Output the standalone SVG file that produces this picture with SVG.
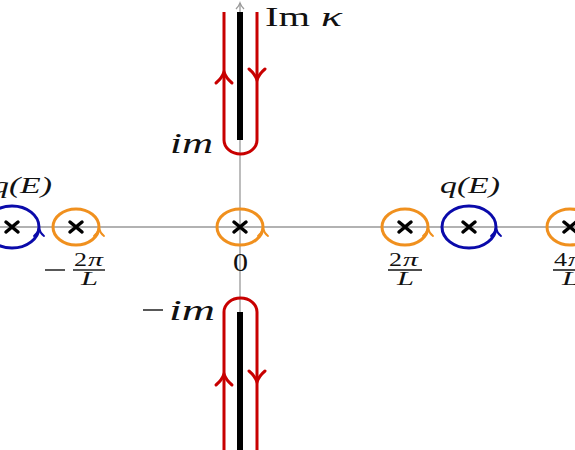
<svg xmlns="http://www.w3.org/2000/svg" width="575" height="450" viewBox="0 0 575 450">
<defs>
<style>
.axis{stroke:#999;stroke-width:1.3;fill:none}
.cut{stroke:#000;stroke-width:6;fill:none}
.red{stroke:#c80000;stroke-width:3;fill:none}
.orange{stroke:#f0901e;stroke-width:3;fill:none}
.blue{stroke:#0a0aaa;stroke-width:3;fill:none}
.x{stroke:#000;stroke-width:3.5;stroke-linecap:round;fill:none}
.m{font-family:"Liberation Serif",serif;font-style:italic;fill:#111}
.r{font-family:"Liberation Serif",serif;fill:#111}
.bar{stroke:#111;stroke-width:1.4}
</style>
<path id="chev" d="M-5,5 Q-1,2 0,-3 Q1,2 5,5" stroke-width="2" stroke-linecap="round" fill="none"/>
<path id="chevR" d="M-8,7 Q-2,2 0,-4 Q2,2 8,7" stroke-width="3" stroke-linecap="round" fill="none"/>
<path id="cross" d="M-6,-5 L6,5 M-6,5 L6,-5"/>
</defs>

<g id="axes">
<line class="axis" x1="0" y1="227" x2="575" y2="227"/>
<line class="axis" x1="240" y1="450" x2="240" y2="3"/>
<path class="axis" d="M236,9 Q239,6 240,3 Q241,6 244,9"/>
</g>

<g id="connectors">
<line class="cut" x1="240" y1="12" x2="240" y2="140"/>
<line class="cut" x1="240" y1="312" x2="240" y2="450"/>
<path class="red" d="M224,12 V140 A16.5,14 0 0 0 257,140 V12"/>
<path class="red" d="M224,450 V312 A16.5,14 0 0 1 257,312 V450"/>
<use href="#chevR" stroke="#c80000" transform="translate(224,76)"/>
<use href="#chevR" stroke="#c80000" transform="translate(257,76) rotate(180)"/>
<use href="#chevR" stroke="#c80000" transform="translate(224,378)"/>
<use href="#chevR" stroke="#c80000" transform="translate(257,378) rotate(180)"/>
</g>

<g id="pole-m2">
<ellipse class="orange" cx="76" cy="227" rx="23" ry="18"/>
<use href="#chev" stroke="#f0901e" transform="translate(99,231)"/>
<use href="#cross" class="x" transform="translate(76,227)"/>
</g>
<g id="pole-0">
<ellipse class="orange" cx="240" cy="227" rx="23" ry="18"/>
<use href="#chev" stroke="#f0901e" transform="translate(263,231)"/>
<use href="#cross" class="x" transform="translate(240,227)"/>
</g>
<g id="pole-2">
<ellipse class="orange" cx="405" cy="227" rx="23" ry="18"/>
<use href="#chev" stroke="#f0901e" transform="translate(428,231)"/>
<use href="#cross" class="x" transform="translate(405,227)"/>
</g>
<g id="pole-4">
<ellipse class="orange" cx="570" cy="227" rx="23" ry="18"/>
<use href="#cross" class="x" transform="translate(570,227)"/>
</g>
<g id="pole-qE-right">
<ellipse class="blue" cx="469" cy="227" rx="27" ry="21"/>
<use href="#chev" stroke="#0a0aaa" transform="translate(496,231)"/>
<use href="#cross" class="x" transform="translate(469,227)"/>
<text class="m" x="440" y="193" font-size="24" textLength="60" lengthAdjust="spacingAndGlyphs">q(E)</text>
</g>
<g id="pole-qE-left">
<ellipse class="blue" cx="12" cy="227" rx="27" ry="21"/>
<use href="#chev" stroke="#0a0aaa" transform="translate(39,231)"/>
<use href="#cross" class="x" transform="translate(12,227)"/>
<text class="m" x="-8" y="193" font-size="24" textLength="60" lengthAdjust="spacingAndGlyphs">q(E)</text>
</g>

<g id="labels">
<text class="r" x="265" y="26" font-size="28" textLength="45" lengthAdjust="spacingAndGlyphs">Im</text>
<text class="m" x="321" y="26" font-size="28" textLength="21" lengthAdjust="spacingAndGlyphs">κ</text>
<text class="m" x="170" y="153" font-size="30" textLength="43" lengthAdjust="spacingAndGlyphs">im</text>
<line class="bar" x1="143" y1="310" x2="163" y2="310" stroke-width="1.6"/>
<text class="m" x="169" y="320" font-size="30" textLength="46" lengthAdjust="spacingAndGlyphs">im</text>
<text class="r" x="233" y="271" font-size="26" textLength="15" lengthAdjust="spacingAndGlyphs">0</text>

<line class="bar" x1="45" y1="270" x2="65" y2="270"/>
<text class="r" x="74" y="266" font-size="19" textLength="13" lengthAdjust="spacingAndGlyphs">2</text>
<text class="m" x="88" y="266" font-size="19" textLength="15" lengthAdjust="spacingAndGlyphs">π</text>
<line class="bar" x1="73" y1="270" x2="105" y2="270"/>
<text class="m" x="81" y="285" font-size="19" textLength="17" lengthAdjust="spacingAndGlyphs">L</text>

<text class="r" x="389" y="266" font-size="19" textLength="13" lengthAdjust="spacingAndGlyphs">2</text>
<text class="m" x="403" y="266" font-size="19" textLength="15" lengthAdjust="spacingAndGlyphs">π</text>
<line class="bar" x1="388" y1="270" x2="422" y2="270"/>
<text class="m" x="397" y="285" font-size="19" textLength="17" lengthAdjust="spacingAndGlyphs">L</text>

<text class="r" x="554" y="266" font-size="19" textLength="13" lengthAdjust="spacingAndGlyphs">4</text>
<text class="m" x="568" y="266" font-size="19" textLength="15" lengthAdjust="spacingAndGlyphs">π</text>
<line class="bar" x1="553" y1="270" x2="587" y2="270"/>
<text class="m" x="562" y="285" font-size="19" textLength="17" lengthAdjust="spacingAndGlyphs">L</text>
</g>
</svg>
